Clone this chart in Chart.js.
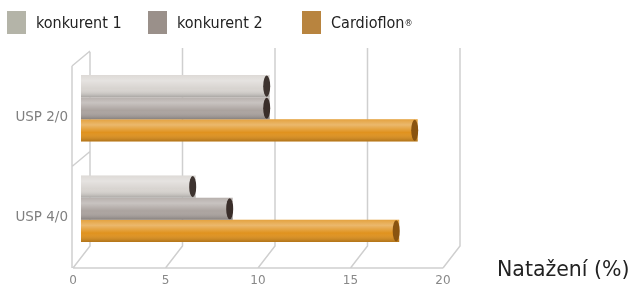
<!DOCTYPE html>
<html>
<head>
<meta charset="utf-8">
<script src="https://cdn.jsdelivr.net/npm/chart.js@4"></script>
<style>
  html, body { margin: 0; padding: 0; background: #fff; }
  #wrap { position: relative; width: 632px; height: 287px; }
  #chart { position: absolute; left: 0; top: 0; }
  .leg { position: absolute; top: 11px; height: 23px; display: flex; align-items: center;
         font-family: "Liberation Sans Narrow", "DejaVu Sans Condensed", sans-serif; font-size: 16px; color: #222; }
  .leg i { display: inline-block; width: 19px; height: 23px; margin-right: 10px; }
  .leg sup { font-size: 9px; vertical-align: 6px; }
</style>
</head>
<body>
<div id="wrap">
  <canvas id="chart" width="632" height="287"></canvas>
</div>
<script>
// categories and values (Natažení %)
const categories = ['USP 2/0', 'USP 4/0'];
const seriesNames = ['konkurent 1', 'konkurent 2', 'Cardioflon'];
const konkurent1 = [10.2, 6.2];
const konkurent2 = [10.2, 8.2];
const cardioflon = [18.2, 17.2];
const xTicks = [0, 5, 10, 15, 20];

const legendColors = ['#b4b4a8', '#9a908a', '#b8843f'];
const barColors = ['#d8d4d0', '#aba39f', '#e0921e'];
const capColors = ['#3e3430', '#3a2e2a', '#8a5410'];

// legend (html, placed like the original)
const legendLeft = [7, 148, 302];
seriesNames.forEach((name, i) => {
  const d = document.createElement('div');
  d.className = 'leg';
  d.style.left = legendLeft[i] + 'px';
  d.innerHTML = '<i style="background:' + legendColors[i] + '"></i>' + name + (i === 2 ? '<sup>®</sup>' : '');
  document.getElementById('wrap').appendChild(d);
});

// 3d-ish frame behind the bars
const framePlugin = {
  id: 'frame',
  beforeDatasetsDraw(chart) {
    const { ctx, chartArea } = chart;
    const x = chart.scales.x;
    const px = v => x.getPixelForValue(v);
    const backY0 = chartArea.top - 10, backY1 = chartArea.bottom - 13;
    const frontY = chartArea.bottom + 9;
    ctx.save();
    ctx.strokeStyle = '#cfcfcf';
    ctx.lineWidth = 1.5;
    ctx.beginPath();
    xTicks.forEach(v => {
      const bx = px(v) + 9;
      ctx.moveTo(bx, v === 0 ? backY0 + 4 : backY0);
      ctx.lineTo(bx, backY1);
      ctx.lineTo(px(v) - 8, frontY);
    });
    // floor front edge
    ctx.moveTo(px(0) - 8, frontY);
    ctx.lineTo(px(20) - 8, frontY);
    // left wall
    const lx = px(0) - 9;
    ctx.moveTo(lx, chartArea.top + 8);
    ctx.lineTo(lx, frontY);
    ctx.moveTo(lx, chartArea.top + 8);
    ctx.lineTo(px(0) + 9, chartArea.top - 7);
    const mid = (chartArea.top + chartArea.bottom) / 2;
    ctx.moveTo(lx, mid + 8);
    ctx.lineTo(px(0) + 9, mid - 7);
    ctx.stroke();
    ctx.restore();
  },
  afterDatasetsDraw(chart) {
    const { ctx } = chart;
    ctx.save();
    chart.data.datasets.forEach((ds, di) => {
      chart.getDatasetMeta(di).data.forEach(bar => {
        const h = bar.height, top = bar.y - h / 2;
        const g = ctx.createLinearGradient(0, top, 0, top + h);
        g.addColorStop(0, 'rgba(255,255,255,0.15)');
        g.addColorStop(0.25, 'rgba(255,255,255,0.35)');
        g.addColorStop(0.6, 'rgba(255,255,255,0)');
        g.addColorStop(1, 'rgba(0,0,0,0.22)');
        ctx.fillStyle = g;
        ctx.fillRect(bar.base, top, bar.x - bar.base, h);
        // end cap
        ctx.fillStyle = capColors[di];
        ctx.beginPath();
        ctx.ellipse(bar.x - 3, bar.y, 3.5, h / 2 - 0.5, 0, 0, Math.PI * 2);
        ctx.fill();
      });
    });
    // axis unit
    ctx.fillStyle = '#222';
    ctx.font = '20.5px "DejaVu Sans", sans-serif';
    ctx.textBaseline = 'alphabetic';
    ctx.fillText('Natažení (%)', 497, 276);
    ctx.restore();
  }
};

new Chart(document.getElementById('chart'), {
  type: 'bar',
  data: {
    labels: categories,
    datasets: [
      { label: seriesNames[0], data: konkurent1, backgroundColor: barColors[0] },
      { label: seriesNames[1], data: konkurent2, backgroundColor: barColors[1] },
      { label: seriesNames[2], data: cardioflon, backgroundColor: barColors[2] }
    ]
  },
  options: {
    indexAxis: 'y',
    responsive: false,
    animation: false,
    categoryPercentage: 0.66,
    barPercentage: 1.0,
    layout: { padding: { top: 58, right: 181, left: 0, bottom: 0 } },
    plugins: { legend: { display: false }, tooltip: { enabled: false } },
    scales: {
      x: {
        min: 0, max: 20,
        afterBuildTicks: s => { s.ticks = xTicks.map(v => ({ value: v })); },
        afterFit: s => { s.height = 28; },
        grid: { display: false, drawTicks: false },
        border: { display: false },
        ticks: { labelOffset: -8, padding: 15, color: '#888', font: { family: 'DejaVu Sans', size: 12 } }
      },
      y: {
        afterFit: s => { s.width = 81; },
        grid: { display: false, drawTicks: false },
        border: { display: false },
        ticks: { labelOffset: 9, padding: 13, color: '#808080', font: { family: 'DejaVu Sans', size: 13.5 } }
      }
    }
  },
  plugins: [framePlugin]
});
</script>
</body>
</html>
